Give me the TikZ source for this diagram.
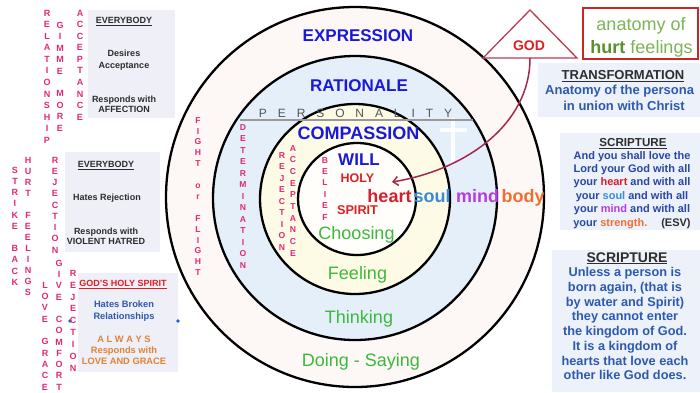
\documentclass[tikz,border=0pt]{standalone}
\usepackage{fontspec}
\setmainfont{Liberation Sans}
\usetikzlibrary{arrows.meta}
\definecolor{boxgray}{RGB}{238,239,247}
\definecolor{rboxblue}{RGB}{236,241,250}
\definecolor{ringA}{RGB}{253,247,245}
\definecolor{ringB}{RGB}{229,239,250}
\definecolor{ringC}{RGB}{253,250,230}
\definecolor{ringD}{RGB}{255,254,250}
\definecolor{headblue}{RGB}{25,25,220}
\definecolor{wgreen}{RGB}{60,185,60}
\definecolor{vpink}{RGB}{228,40,120}
\definecolor{godred}{RGB}{225,30,35}
\definecolor{heartred}{RGB}{215,30,45}
\definecolor{soulblue}{RGB}{55,140,215}
\definecolor{mindpurple}{RGB}{180,60,225}
\definecolor{bodyorange}{RGB}{240,110,50}
\definecolor{scriptblue}{RGB}{40,70,165}
\definecolor{anatgreen}{RGB}{125,180,85}
\definecolor{hurtgreen}{RGB}{85,145,45}
\definecolor{arrowred}{RGB}{165,40,75}
\definecolor{tribord}{RGB}{185,60,80}
\definecolor{textgray}{RGB}{45,45,45}
\definecolor{persgray}{RGB}{85,85,85}
\definecolor{hsblue}{RGB}{45,90,175}
\definecolor{alworange}{RGB}{225,130,55}
\definecolor{dotblue}{RGB}{30,90,210}
\newcommand\lsp{\hspace{10.9pt}}
\begin{document}
\begin{tikzpicture}[x=1pt,y=-1pt,
  vt/.style={font=\fontsize{9}{#1}\selectfont\bfseries, text=vpink, align=center, inner sep=0pt, anchor=north},
  vt/.default=11.4,
  ringline/.style={draw=black, line width=2.3pt},
  bighead/.style={font=\fontsize{#1}{#1}\selectfont\bfseries, text=headblue, inner sep=0pt, anchor=base},
  grn/.style={font=\fontsize{18}{18}\selectfont, text=wgreen, inner sep=0pt, anchor=base},
  hw/.style={font=\fontsize{18}{18}\selectfont\bfseries, inner sep=0pt, anchor=base},
  lbox/.style={fill=boxgray, draw=none},
  rbox/.style={fill=rboxblue, draw=none},
  ltxt/.style={font=\fontsize{9}{#1}\selectfont\bfseries, text=textgray, align=center, inner sep=0pt},
  ltxt/.default=11
]
\useasboundingbox (0,0) rectangle (700,392);
\fill[white] (0,0) rectangle (700,392);

% ---------- left boxes ----------
\path[lbox] (88,10) rectangle (175,118);
\path[lbox] (65,152) rectangle (160,252);
\path[lbox] (78,273) rectangle (178,372);

\node[ltxt, anchor=base] (eb1) at (124,23.3) {\underline{EVERYBODY}};
\node[ltxt=12, anchor=north] (des) at (124,49.7) {Desires\\Acceptance};
\node[ltxt=10.5, anchor=north] (resp1) at (124,95.7) {Responds with\\AFFECTION};

\node[ltxt, anchor=base] (eb2) at (106,167.3) {\underline{EVERYBODY}};
\node[ltxt, anchor=base] (hates) at (107,200.3) {Hates Rejection};
\node[ltxt=10.5, anchor=north] (resp2) at (106,227.7) {Responds with\\VIOLENT HATRED};

\node[ltxt, anchor=base, text=godred] (ghs) at (123,286.3) {\underline{GOD'S HOLY SPIRIT}};
\node[ltxt=12, anchor=north, text=hsblue, font=\fontsize{9.3}{12}\selectfont\bfseries] (hbr) at (124,300.6) {Hates Broken\\Relationships};
\node[ltxt=11, anchor=north, text=alworange, font=\fontsize{9.3}{11}\selectfont\bfseries] (alw) at (124,335.6) {A L W A Y S\\Responds with\\LOVE AND GRACE};

\fill[dotblue] (70,321) circle[radius=1.8pt];
\fill[dotblue] (178,321) circle[radius=1.8pt];

% ---------- vertical words, left ----------
\node[vt=11.55] (relat) at (47,9.8) {R\\E\\L\\A\\T\\I\\O\\N\\S\\H\\I\\P};
\node[vt=11.44] (gimme) at (60,21.8) {G\\I\\M\\M\\E\\\mbox{}\\M\\O\\R\\E};
\node[vt=11.56] (accept1) at (80,9.8) {A\\C\\C\\E\\P\\T\\A\\N\\C\\E};
\node[vt=11.2] (strike) at (15,166.8) {S\\T\\R\\I\\K\\E\\\mbox{}\\B\\A\\C\\K};
\node[vt=11] (hurtf) at (28,156.8) {H\\U\\R\\T\\\mbox{}\\F\\E\\E\\L\\I\\N\\G\\S};
\node[vt=11.25] (rej1) at (55,156.8) {R\\E\\J\\E\\C\\T\\I\\O\\N};
\node[vt=11.27] (give) at (59,259.8) {G\\I\\V\\E\\\mbox{}\\C\\O\\M\\F\\O\\R\\T};
\node[vt=11.33] (love) at (45,281.8) {L\\O\\V\\E\\\mbox{}\\G\\R\\A\\C\\E};
\node[vt=11.9] (rej2) at (73,269.8) {R\\E\\J\\E\\C\\T\\I\\O\\N};

% ---------- rings ----------
\path[ringline, fill=ringA] (355,197) ellipse[x radius=189pt, y radius=190pt];
\path[ringline, fill=ringB] (355,198) ellipse[x radius=142pt, y radius=142pt];
\draw[white, opacity=0.85, line width=4pt] (453,118) -- (453,165);
\draw[white, opacity=0.85, line width=4pt] (440,130) -- (467,130);
\path[ringline, fill=ringC] (355,199) ellipse[x radius=95pt, y radius=95pt];
\path[ringline, fill=ringD] (357,199) ellipse[x radius=59pt, y radius=56pt];

% personality line
\draw[gray!80, line width=1.2pt] (240,120) -- (473,120);
\node[font=\fontsize{12}{12}\selectfont, text=persgray, inner sep=0pt, anchor=base] (pers) at (355.5,117)
  {P\lsp E\lsp R\lsp S\lsp O\lsp N\lsp A\lsp L\lsp I\lsp T\lsp Y};

% vertical words, circles
\node[vt=10.9, font=\fontsize{8.6}{10.9}\selectfont\bfseries] (fight) at (198,117) {F\\I\\G\\H\\T\\\mbox{}\\o\\r\\\mbox{}\\F\\L\\I\\G\\H\\T};
\node[vt=11.5, font=\fontsize{8.6}{11.5}\selectfont\bfseries] (determ) at (243,124) {D\\E\\T\\E\\R\\M\\I\\N\\A\\T\\I\\O\\N};
\node[vt=11.5, font=\fontsize{8.6}{11.5}\selectfont\bfseries] (rej3) at (282,152) {R\\E\\J\\E\\C\\T\\I\\O\\N};
\node[vt=11.67, font=\fontsize{8.6}{11.67}\selectfont\bfseries] (accept2) at (293,145) {A\\C\\C\\E\\P\\T\\A\\N\\C\\E};
\node[vt=11.4, font=\fontsize{8.6}{11.4}\selectfont\bfseries] (belief) at (325,157) {B\\E\\L\\I\\E\\F};

% ring headings
\node[bighead=17] (expr) at (358,41.1) {EXPRESSION};
\node[bighead=17] (ratio) at (359,91.1) {RATIONALE};
\node[bighead=18] (comp) at (358.5,139.5) {COMPASSION};
\node[bighead=17] (will) at (359,165.1) {WILL};
\node[font=\fontsize{12.5}{12.5}\selectfont\bfseries, text=godred, inner sep=0pt, anchor=base] (holy) at (357.5,182.5) {HOLY};
\node[font=\fontsize{12.7}{12.7}\selectfont\bfseries, text=godred, inner sep=0pt, anchor=base] (spirit) at (357.5,214.5) {SPIRIT};

\node[hw, text=heartred] (heart) at (389.5,202.5) {heart};
\node[hw, text=soulblue] (soul) at (432,202.5) {soul};
\node[hw, text=mindpurple] (mind) at (477.5,202.5) {mind};
\node[hw, text=bodyorange] (body) at (523,202.5) {body};

\node[grn] (choosing) at (356.5,239.5) {Choosing};
\node[grn] (feeling) at (357.5,279.5) {Feeling};
\node[grn] (thinking) at (359,323.5) {Thinking};
\node[grn] (doing) at (361,366.5) {Doing - Saying};

% ---------- right boxes ----------
\path[rbox] (538,63) rectangle (700,117);
\path[rbox] (560,133) rectangle (700,230);
\path[rbox] (552,250) rectangle (700,392);

\node[font=\fontsize{13}{13}\selectfont\bfseries, text=textgray, inner sep=0pt, anchor=base] (transf) at (623,79.7) {\underline{TRANSFORMATION}};
\node[font=\fontsize{13}{13}\selectfont\bfseries, text=hsblue, inner sep=0pt, anchor=base west] (anat2) at (545,94.7) {Anatomy of the persona};
\node[font=\fontsize{13}{13}\selectfont\bfseries, text=hsblue, inner sep=0pt, anchor=base] (union) at (624,110.7) {in union with Christ};

\node[font=\fontsize{11.6}{11.6}\selectfont\bfseries, text=textgray, inner sep=0pt, anchor=base] (scr1) at (633,146.2) {\underline{SCRIPTURE}};
\node[font=\fontsize{11}{13.4}\selectfont\bfseries, text=scriptblue, align=center, inner sep=0pt, anchor=north] (scr1body) at (632,151)
  {And you shall love the\\Lord your God with all\\your \textcolor{heartred}{heart} and with all\\your \textcolor{soulblue}{soul} and with all\\your \textcolor{mindpurple}{mind} and with all\\your \textcolor{bodyorange}{strength.}\hspace{14pt}\textcolor{textgray}{(ESV)}};

\node[font=\fontsize{14}{14}\selectfont\bfseries, text=textgray, inner sep=0pt, anchor=base] (scr2) at (627,262) {\underline{SCRIPTURE}};
\node[font=\fontsize{12.75}{14.7}\selectfont\bfseries, text=hsblue, align=center, inner sep=0pt, anchor=north] (scr2body) at (625,267.4)
  {Unless a person is\\born again, (that is\\by water and Spirit)\\they cannot enter\\the kingdom of God.\\It is a kingdom of\\hearts that love each\\other like God does.};

% anatomy box
\draw[draw=red!75!black!85, line width=1.4pt, fill=white] (583,8) rectangle (698,59);
\node[font=\fontsize{18}{18}\selectfont, text=anatgreen, inner sep=0pt, anchor=base] (anat) at (641,30) {anatomy of};
\node[font=\fontsize{18}{18}\selectfont, text=anatgreen, inner sep=0pt, anchor=base] (hurtfl) at (641.5,53.3) {\textcolor{hurtgreen}{\textbf{hurt}} feelings};

% GOD triangle and arrow
\draw[tribord, line width=1.3pt, fill=white] (530,10) -- (577,58) -- (483,58) -- cycle;
\node[font=\fontsize{14}{14}\selectfont\bfseries, text=godred, inner sep=0pt, anchor=base] (god) at (529,50) {GOD};
\coordinate (godbase) at (530,58);
\coordinate (heartpt) at (392,182);
\draw[arrowred, line width=1.5pt, -{Straight Barb[length=5pt,width=9pt]}] (godbase) .. controls (530,125) and (465,170) .. (heartpt);
\end{tikzpicture}
\end{document}
